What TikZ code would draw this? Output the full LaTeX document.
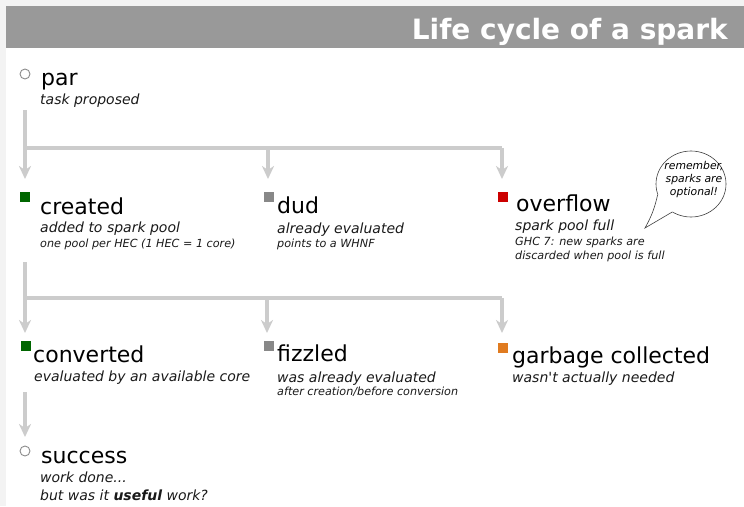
\documentclass[tikz,border=0pt]{standalone}
\usepackage{fontspec}
\setmainfont{DejaVu Sans}
\newfontfamily\plaindv{DejaVu Sans}
\usetikzlibrary{arrows.meta,shapes.geometric}
\definecolor{barc}{HTML}{999999}
\definecolor{connc}{HTML}{CCCCCC}
\definecolor{sgreen}{HTML}{006600}
\definecolor{sgray}{HTML}{888888}
\definecolor{sred}{HTML}{CC0000}
\definecolor{sorange}{HTML}{E07B20}
\definecolor{edgec}{HTML}{F3F3F3}
\definecolor{subc}{HTML}{1A1A1A}
\begin{document}
\begin{tikzpicture}[x=1pt,y=-1pt,
  lbl/.style={anchor=base west,inner sep=0pt,font=\fontsize{22}{26}\selectfont},
  sub/.style={anchor=base west,inner sep=0pt,text=subc,font=\fontsize{14}{17}\selectfont\itshape},
  small/.style={anchor=base west,inner sep=0pt,text=subc,font=\fontsize{11.2}{14}\selectfont\itshape},
  sq/.style={minimum size=10pt,inner sep=0pt,draw=none},
  ring/.style={circle,draw=black!45,fill=white,minimum size=10pt,inner sep=0pt,line width=0.9pt},
  conn/.style={draw=connc,line width=4.5pt,line join=miter},
  arr/.style={conn,-{Stealth[length=13pt,width=12pt,inset=4pt]}}
]
\useasboundingbox (0,0) rectangle (744,506);
\fill[edgec] (0,0) rectangle (744,506);
\fill[white] (6,6) rectangle (744,506);
% title bar
\fill[barc] (6,6) rectangle (744,48);
\node[anchor=base east,inner sep=0pt,text=white,font=\fontsize{28}{32}\selectfont\bfseries] (title) at (728,39) {Life cycle of a spark};

% markers
\node[ring] (mpar) at (25,74) {};
\node[sq,fill=sgreen] (mcreated) at (25,197) {};
\node[sq,fill=sgray] (mdud) at (269,197) {};
\node[sq,fill=sred] (moverflow) at (503,197) {};
\node[sq,fill=sgreen] (mconverted) at (26,346) {};
\node[sq,fill=sgray] (mfizzled) at (268.5,346) {};
\node[sq,fill=sorange] (mgarbage) at (502.5,347.5) {};
\node[ring] (msuccess) at (25,451) {};

% texts
\node[lbl] (par) at (41,85) {par};
\node[sub] (partxt) at (40,104) {task proposed};

\node[lbl] (created) at (40,214) {created};
\node[sub] (createdtxt) at (40,232) {added to spark pool};
\node[small] (createdsm) at (40,247) {one pool per HEC (1 HEC = 1 core)};

\node[lbl] (dud) at (277,213) {dud};
\node[sub] (dudtxt) at (277,233) {already evaluated};
\node[small] (dudsm) at (277,247) {points to a WHNF};

\node[lbl] (overflow) at (516,211) {overflow};
\node[sub] (overflowtxt) at (515,230) {spark pool full};
\node[small] (overflowsma) at (515,245) {GHC 7: new sparks are};
\node[small] (overflowsmb) at (515,259) {discarded when pool is full};

\node[lbl] (converted) at (33,362) {converted};
\node[sub] (convertedtxt) at (34,381) {evaluated by an available core};

\node[lbl] (fizzled) at (277,361) {fizzled};
\node[sub] (fizzledtxt) at (277,382) {was already evaluated};
\node[small] (fizzledsm) at (277,395) {after creation/before conversion};

\node[lbl] (garbage) at (512,363) {garbage collected};
\node[sub] (garbagetxt) at (512,382) {\plaindv wasn't actually needed};

\node[lbl] (success) at (41,463) {success};
\node[sub] (successa) at (40,482) {work done...};
\node[sub] (successb) at (40,500) {but was it \textbf{useful} work?};

% connector coordinates
\coordinate (parout) at (25,110);
\coordinate (ja) at (25,148);
\coordinate (jam) at (268,148);
\coordinate (jar) at (502,148);
\coordinate (cin) at (25,179);
\coordinate (din) at (268,179);
\coordinate (oin) at (502,179);

\coordinate (createdout) at (25,262);
\coordinate (jb) at (25,298);
\coordinate (jbm) at (267,298);
\coordinate (jbr) at (502,298);
\coordinate (cvin) at (25,333);
\coordinate (fin) at (267,333);
\coordinate (gin) at (502,333);

\coordinate (convout) at (25,392);
\coordinate (sin) at (25,437);

\draw[arr] (parout) -- (ja) -- (cin);
\draw[conn] (ja) -- (jar);
\draw[arr] (jam) -- (din);
\draw[arr] (jar) -- (oin);

\draw[arr] (createdout) -- (jb) -- (cvin);
\draw[conn] (jb) -- (jbr);
\draw[arr] (jbm) -- (fin);
\draw[arr] (jbr) -- (gin);

\draw[arr] (convout) -- (sin);

% speech bubble
\node[ellipse,draw=black!75,fill=white,line width=0.6pt,minimum width=70pt,minimum height=66pt,inner sep=0pt] (bubble) at (691,184) {};
\coordinate (tip) at (645,228);
\fill[white] (bubble.198) -- (tip) -- (bubble.236) -- (bubble.center) -- cycle;
\draw[black!75,line width=0.6pt] (bubble.198) to[bend left=8] (tip) -- (bubble.236);
\node[align=center,inner sep=0pt,font=\fontsize{10.8}{13}\selectfont\itshape] (btext) at (694,180) {remember,\\sparks are\\optional!};
\end{tikzpicture}
\end{document}
